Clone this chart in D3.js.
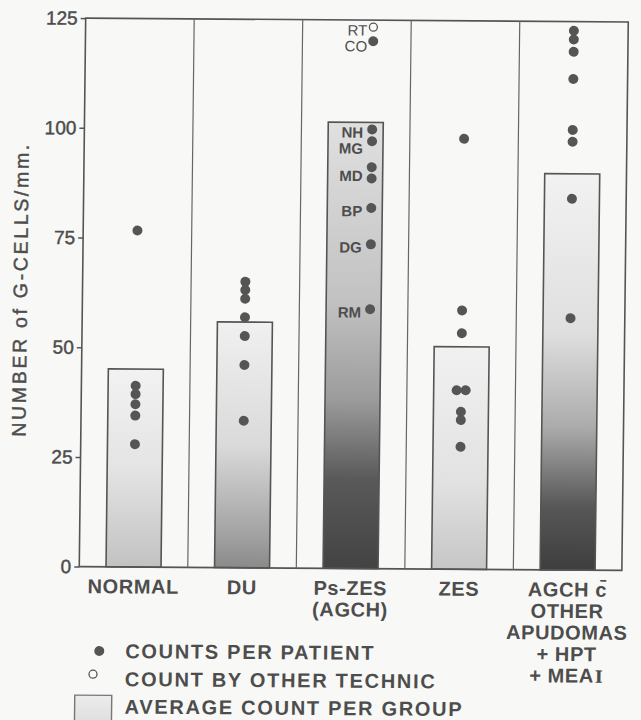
<!DOCTYPE html>
<html>
<head>
<meta charset="utf-8">
<script src="https://cdn.jsdelivr.net/npm/d3@7"></script>
<style>
  html, body { margin: 0; padding: 0; background: #f8f8f6; }
  svg { display: block; }
  text { font-family: "Liberation Sans", Arial, Helvetica, sans-serif; fill: #4d4d4d; }
  .medium { stroke: #4d4d4d; stroke-width: 0.45px; }
</style>
</head>
<body>
<div id="chart"></div>
<script>
// groups along the x axis and their (multi line) labels
const groups = ["NORMAL", "DU", "Ps-ZES", "ZES", "AGCH"];
const groupLabels = [
  ["NORMAL"],
  ["DU"],
  ["Ps-ZES", "(AGCH)"],
  ["ZES"],
  ["AGCH c\u0304", "OTHER", "APUDOMAS", "+ HPT", "+ MEA I"]
];

// average count per group (the bars)
const avgCounts = [45.1, 56.0, 101.7, 50.7, 90.3];

// counts per patient (filled dots)
const patientCounts = [
  [76.7, 41.3, 39.4, 37.1, 34.5, 28.0],
  [65.2, 63.3, 61.3, 57.1, 52.8, 46.2, 33.5],
  [120.2, 100.1, 97.4, 91.5, 88.9, 82.2, 73.9, 59.1],
  [98.1, 59.0, 53.8, 40.8, 40.8, 35.9, 34.0, 27.9],
  [122.9, 120.9, 118.1, 111.9, 100.3, 97.6, 84.6, 57.4]
];
// patient initials for the Ps-ZES group
const psZesInitials = ["CO", "NH", "MG", "MD", "MD", "BP", "DG", "RM"];

// count by other technic (open dot)
const otherGroups = ["Ps-ZES"];
const otherCounts = [123.4];
const otherInitials = ["RT"];

const yTicks = [0, 25, 50, 75, 100, 125];

const legendItems = ["COUNTS PER PATIENT", "COUNT BY OTHER TECHNIC", "AVERAGE COUNT PER GROUP"];

// bar shading, top to bottom
const shades = [
  [[0, "#f2f2f2"], [0.5, "#e4e4e4"], [1, "#c2c2c2"]],
  [[0, "#f0f0f0"], [0.5, "#dadada"], [0.88, "#a0a0a0"], [1, "#8a8a8a"]],
  [[0, "#e0e0e0"], [0.4, "#c2c2c2"], [0.62, "#9c9c9c"], [0.8, "#595959"], [1, "#434343"]],
  [[0, "#f1f1f1"], [0.6, "#e2e2e2"], [1, "#c6c6c6"]],
  [[0, "#f2f2f2"], [0.4, "#dfdfdf"], [0.64, "#ababab"], [0.84, "#575757"], [1, "#3e3e3e"]]
];

const width = 641, height = 720;
const plot = {left: 82.4, right: 625, top: 20, bottom: 568.5};
const barWidth = 55;
const ink = "#555";

const svg = d3.select("#chart").append("svg")
  .attr("width", width)
  .attr("height", height);

const defs = svg.append("defs");
shades.forEach((stops, i) => {
  const lg = defs.append("linearGradient")
    .attr("id", "shade" + i)
    .attr("x1", 0).attr("y1", 0).attr("x2", 0).attr("y2", 1);
  stops.forEach(s => lg.append("stop").attr("offset", s[0]).attr("stop-color", s[1]));
});
const lgLegend = defs.append("linearGradient")
  .attr("id", "shadeLegend").attr("x1", 0).attr("y1", 0).attr("x2", 0).attr("y2", 1);
lgLegend.append("stop").attr("offset", 0).attr("stop-color", "#ececec");
lgLegend.append("stop").attr("offset", 1).attr("stop-color", "#dcdcdc");

// the scanned figure sits a little crooked on the page
const g = svg.append("g")
  .attr("transform", "translate(350,300) rotate(0.4) skewX(-0.27) translate(-350,-300)");

const xScale = d3.scaleBand()
  .domain(groups)
  .range([plot.left, plot.right])
  .padding(0);

const yScale = d3.scaleLinear()
  .domain([0, 125])
  .range([plot.bottom, plot.top]);

const cx = d => xScale(d) + xScale.bandwidth() / 2;
const dotOffset = d => d === "Ps-ZES" ? 16.5 : 0;

// bars
g.selectAll(".bar")
  .data(groups)
  .enter()
  .append("rect")
  .attr("class", "bar")
  .attr("x", d => cx(d) - barWidth / 2)
  .attr("y", (d, i) => yScale(avgCounts[i]))
  .attr("width", barWidth)
  .attr("height", (d, i) => yScale(0) - yScale(avgCounts[i]))
  .attr("fill", (d, i) => "url(#shade" + i + ")")
  .attr("stroke", ink)
  .attr("stroke-width", 1.6);

// frame and dividers
g.append("rect")
  .attr("x", plot.left).attr("y", plot.top)
  .attr("width", plot.right - plot.left)
  .attr("height", plot.bottom - plot.top)
  .attr("fill", "none")
  .attr("stroke", ink)
  .attr("stroke-width", 1.6);

g.selectAll(".divider")
  .data(groups.slice(1))
  .enter()
  .append("line")
  .attr("x1", d => xScale(d)).attr("x2", d => xScale(d))
  .attr("y1", plot.top).attr("y2", plot.bottom)
  .attr("stroke", "#666")
  .attr("stroke-width", 1.2);

// y axis
const axisG = g.append("g")
  .attr("transform", "translate(" + plot.left + ",0)")
  .call(d3.axisLeft(yScale).tickValues(yTicks).tickSize(5).tickPadding(3));
axisG.select(".domain").remove();
axisG.selectAll(".tick line").attr("stroke", ink).attr("stroke-width", 1.5);
axisG.selectAll(".tick text")
  .attr("class", "medium")
  .attr("fill", "#4d4d4d")
  .style("font-size", "19px")
  .style("font-family", "\"Liberation Sans\", Arial, sans-serif");

g.append("text")
  .attr("class", "medium")
  .attr("transform", "translate(27,293) rotate(-90)")
  .attr("text-anchor", "middle")
  .attr("textLength", 292)
  .attr("lengthAdjust", "spacing")
  .style("font-size", "19.5px")
  .text("NUMBER of G-CELLS/mm.");

// dots per patient, equal values side by side
groups.forEach((grp, i) => {
  const vals = patientCounts[i];
  const seen = {};
  vals.forEach(v => {
    const n = vals.filter(w => w === v).length;
    const k = seen[v] = (seen[v] || 0) + 1;
    g.append("circle")
      .attr("cx", cx(grp) + dotOffset(grp) + (k - 1 - (n - 1) / 2) * 9)
      .attr("cy", yScale(v))
      .attr("r", 5)
      .attr("fill", ink);
  });
});

// other technic
otherGroups.forEach((grp, i) => {
  g.append("circle")
    .attr("cx", cx(grp) + dotOffset(grp))
    .attr("cy", yScale(otherCounts[i]))
    .attr("r", 4)
    .attr("fill", "#fafafa")
    .attr("stroke", ink)
    .attr("stroke-width", 1.3);
});

// initials next to the Ps-ZES dots, pushed down so they do not collide
const psIndex = groups.indexOf("Ps-ZES");
const initialsRoll = d3.rollups(
  psZesInitials.map((name, j) => ({name, v: patientCounts[psIndex][j]})),
  a => d3.mean(a, d => d.v),
  d => d.name
).map(([name, v]) => ({name, v, grp: "Ps-ZES"}));
otherInitials.forEach((name, i) => initialsRoll.push({name, v: otherCounts[i], grp: otherGroups[i]}));
initialsRoll.sort((a, b) => b.v - a.v);

let lastY = -Infinity;
initialsRoll.forEach(d => {
  const inside = d.v < avgCounts[groups.indexOf(d.grp)];
  const ty = Math.max(yScale(d.v) + 3, lastY + 16);
  lastY = ty;
  g.append("text")
    .attr("x", cx(d.grp) + dotOffset(d.grp) - (inside ? 9 : 6))
    .attr("y", ty)
    .attr("dy", "0.36em")
    .attr("text-anchor", "end")
    .style("font-size", "15px")
    .style("font-weight", inside ? "bold" : "normal")
    .text(d.name);
});

// x labels
groups.forEach((grp, i) => {
  groupLabels[i].forEach((line, j) => {
    const t = g.append("text")
      .attr("x", cx(grp))
      .attr("y", 595 + j * 21.5)
      .attr("text-anchor", "middle")
      .style("font-size", "20px")
      .style("font-weight", "bold")
      .style("letter-spacing", "0.6px");
    if (line === "+ MEA I") {
      t.append("tspan").text("+ MEA");
      t.append("tspan")
        .style("font-family", "\"DejaVu Serif\", serif")
        .style("font-size", "17px")
        .attr("dx", 1)
        .text("I");
    } else {
      t.text(line);
    }
  });
});

// legend
const legend = g.append("g");
legend.append("circle")
  .attr("cx", 103.4).attr("cy", 652.8).attr("r", 5).attr("fill", ink);
legend.append("circle")
  .attr("cx", 97.4).attr("cy", 676).attr("r", 4)
  .attr("fill", "#fafafa").attr("stroke", ink).attr("stroke-width", 1.3);
legend.append("rect")
  .attr("x", 79.4).attr("y", 697).attr("width", 37).attr("height", 32)
  .attr("fill", "url(#shadeLegend)").attr("stroke", "#777").attr("stroke-width", 1.4);
legend.selectAll(".legtext")
  .data(legendItems)
  .enter()
  .append("text")
  .attr("x", 129.4)
  .attr("y", (d, i) => [659.7, 687.7, 715.2][i])
  .style("font-size", "20px")
  .style("font-weight", "bold")
  .style("letter-spacing", "1.7px")
  .text(d => d);
</script>
</body>
</html>
